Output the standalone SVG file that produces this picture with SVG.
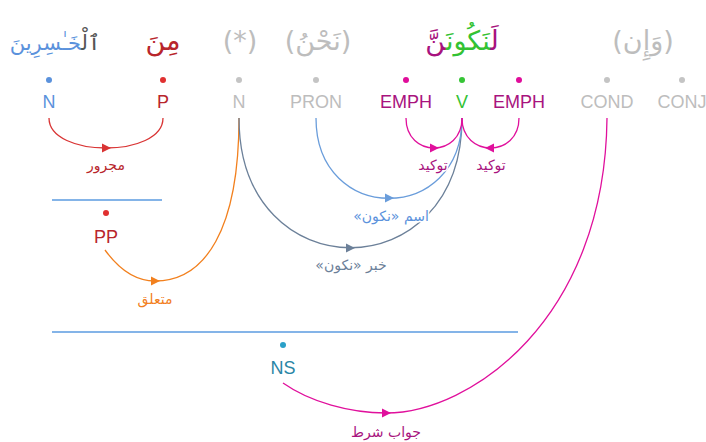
<svg xmlns="http://www.w3.org/2000/svg" width="706" height="442" viewBox="0 0 706 442">
<style>
.ar{font-family:"DejaVu Sans",sans-serif;font-size:27px;text-anchor:middle}
.tag{font-family:"Liberation Sans",Arial,sans-serif;font-size:18px;text-anchor:middle}
.lbl{font-family:"DejaVu Sans",sans-serif;font-size:14px;text-anchor:middle;direction:rtl;paint-order:stroke;stroke:#fff;stroke-width:3px;stroke-linejoin:round}
.arc{fill:none;stroke-width:1.3}
.grey{fill:#bdbdbd}
.noun{fill:#5b92dc}
.prep{fill:#b8262c}
.emph{fill:#a8137e}
.verb{fill:#33c233}
.ns{fill:#2a86a6}
</style>
<defs>
<polygon id="ah" points="-4,-4.5 5,0 -4,4.5"/>
</defs>

<g id="connectors">
<path class="arc" stroke="#d93434" d="M49,118 C49,158 163,158 163,118"/>
<use href="#ah" x="106" y="148" fill="#d93434"/>
<path class="arc" stroke="#f2801e" d="M105,250 C118,268 135,281 155,281 C205,281 239,230 239,118"/>
<use href="#ah" x="155" y="281" fill="#f2801e"/>
<path class="arc" stroke="#6c8099" d="M239,118 C239,291 462,291 462,118"/>
<use href="#ah" x="350" y="248" fill="#6c8099"/>
<path class="arc" stroke="#6a9ddb" d="M316,118 C316,225 462,225 462,118"/>
<use href="#ah" x="389" y="198" fill="#6a9ddb"/>
<path class="arc" stroke="#e0109c" d="M406,118 C406,158 462,158 462,118"/>
<use href="#ah" x="434" y="148" fill="#e0109c"/>
<path class="arc" stroke="#e0109c" d="M462,118 C462,158 519,158 519,118"/>
<use href="#ah" x="490" y="148" fill="#e0109c" transform="rotate(180 490 148)"/>
<path class="arc" stroke="#e0109c" d="M283,383 C310,402 350,413 386,413 C470,413 605,320 607,118"/>
<use href="#ah" x="386" y="413" fill="#e0109c"/>
<line x1="52" y1="200" x2="162" y2="200" stroke="#5b9be0" stroke-width="1.3"/>
<line x1="52" y1="332" x2="518" y2="332" stroke="#5b9be0" stroke-width="1.3"/>
<text class="lbl" x="106" y="170" fill="#b8262c">مجرور</text>
<text class="lbl" x="155" y="304" fill="#f2801e">متعلق</text>
<text class="lbl" x="351" y="270" fill="#6c8099">خبر «نكون»</text>
<text class="lbl" x="391" y="221" fill="#5b92dc">اسم «نكون»</text>
<text class="lbl" x="433" y="170" fill="#a8137e">توكيد</text>
<text class="lbl" x="491" y="170" fill="#a8137e">توكيد</text>
<text class="lbl" x="386" y="437" fill="#a8137e">جواب شرط</text>
</g>

<g id="word1">
<text class="ar" x="100" y="50" style="font-size:21px;text-anchor:end"><tspan fill="#555">ٱلْ</tspan><tspan class="noun">خَـٰسِرِينَ</tspan></text>
</g>
<g id="word2">
<text class="ar prep" x="163" y="50">مِنَ</text>
</g>
<g id="word3">
<text class="ar grey" x="240" y="50">(*)</text>
</g>
<g id="word4">
<text class="ar grey" x="318" y="50">(نَحْنُ)</text>
</g>
<g id="word5">
<text class="ar" x="462" y="50"><tspan class="emph">لَ</tspan><tspan class="verb">نَكُونَ</tspan><tspan class="emph">نَّ</tspan></text>
</g>
<g id="word6">
<text class="ar grey" x="643" y="50">(وَإِن)</text>
</g>

<g id="n-N1"><circle cx="49" cy="80" r="3" fill="#5b92dc"/><text class="tag noun" x="49" y="108">N</text></g>
<g id="n-P"><circle cx="163" cy="80" r="3" fill="#e03030"/><text class="tag prep" x="163" y="108">P</text></g>
<g id="n-N2"><circle cx="239" cy="80" r="3" fill="#c4c4c4"/><text class="tag grey" x="239" y="108">N</text></g>
<g id="n-PRON"><circle cx="316" cy="80" r="3" fill="#c4c4c4"/><text class="tag grey" x="316" y="108">PRON</text></g>
<g id="n-EMPH1"><circle cx="406" cy="80" r="3" fill="#e00d9a"/><text class="tag emph" x="406" y="108">EMPH</text></g>
<g id="n-V"><circle cx="462" cy="80" r="3" fill="#36c536"/><text class="tag verb" x="462" y="108">V</text></g>
<g id="n-EMPH2"><circle cx="519" cy="80" r="3" fill="#e00d9a"/><text class="tag emph" x="519" y="108">EMPH</text></g>
<g id="n-COND"><circle cx="607" cy="80" r="3" fill="#c4c4c4"/><text class="tag grey" x="607" y="108">COND</text></g>
<g id="n-CONJ"><circle cx="682" cy="80" r="3" fill="#c4c4c4"/><text class="tag grey" x="682" y="108">CONJ</text></g>
<g id="n-PP"><circle cx="106" cy="213" r="3" fill="#e03030"/><text class="tag prep" x="106" y="243">PP</text></g>
<g id="n-NS"><circle cx="283" cy="345" r="3" fill="#2aa0c8"/><text class="tag ns" x="283" y="374">NS</text></g>
</svg>
